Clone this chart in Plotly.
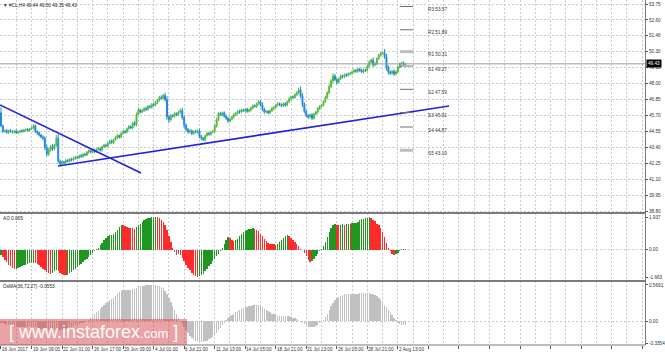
import plotly.graph_objects as go
from plotly.subplots import make_subplots

# ---------------- data ----------------
closes = [
    44.95, 44.55, 44.60, 44.48, 44.62, 44.55, 44.50, 44.58, 44.45, 44.52,
    44.60, 44.55, 44.65, 44.70, 44.62, 44.72, 44.80, 44.95, 44.55, 44.45,
    44.30, 44.15, 44.05, 43.40, 42.90, 43.20, 43.45, 43.30, 43.55, 44.05,
    42.40, 42.20, 42.35, 42.30, 42.45, 42.40, 42.55, 42.50, 42.60, 42.70,
    42.65, 42.80, 42.75, 42.90, 42.85, 43.05, 43.15, 43.05, 43.20, 43.10,
    43.25, 43.30, 43.20, 43.45, 43.55, 43.50, 43.70, 43.85, 43.75, 43.95,
    44.10, 44.25, 44.15, 44.40, 44.55, 44.50, 44.75, 44.90, 44.80, 45.15,
    45.05, 45.80, 46.10, 45.95, 46.05, 46.20, 46.15, 46.35, 46.30, 46.50,
    46.45, 46.65, 46.80, 47.00, 46.95, 47.15, 46.85, 45.60, 45.40, 45.70,
    45.65, 45.85, 45.75, 45.95, 46.05, 45.55, 45.00, 44.70, 44.50, 44.60,
    44.40, 44.55, 44.50, 44.60, 44.20, 44.05, 43.95, 44.25, 44.40, 44.35,
    44.50, 44.55, 44.95, 45.40, 45.85, 45.75, 45.90, 45.65, 45.50, 45.30,
    45.45, 45.60, 45.75, 45.85, 46.00, 45.95, 46.10, 46.05, 46.15, 46.00,
    46.10, 46.25, 46.40, 46.35, 46.55, 46.70, 46.45, 46.15, 45.95, 46.00,
    45.90, 46.05, 46.20, 46.30, 46.45, 46.55, 46.50, 46.40, 46.55, 46.45,
    46.70, 46.90, 47.05, 47.00, 47.20, 47.35, 47.55, 47.10, 46.50, 46.00,
    45.70, 45.60, 45.75, 45.50, 45.80, 45.95, 46.20, 46.35, 46.45, 46.70,
    47.00, 47.35, 47.80, 48.20, 48.55, 48.30, 48.10, 48.35, 48.55, 48.50,
    48.65, 48.60, 48.70, 48.75, 48.85, 48.95, 48.90, 49.05, 48.95, 48.85,
    49.00, 48.95, 49.25, 49.55, 49.70, 49.35, 49.45, 49.80, 50.05, 50.20,
    50.25, 49.95, 49.20, 48.85, 48.75, 48.90, 48.70, 48.85, 49.20, 49.45,
    49.50, 49.38, 49.43,
]
first_open = 45.90

upper_wicks = [
    0.40, 0.10, 0.08, 0.12, 0.06, 0.10, 0.08, 0.06, 0.12, 0.08,
    0.06, 0.10, 0.08, 0.06, 0.10, 0.08, 0.12, 0.15, 0.10, 0.08,
    0.10, 0.08, 0.12, 0.15, 0.20, 0.15, 0.12, 0.18, 0.10, 0.25,
    0.30, 0.12, 0.10, 0.08, 0.12, 0.10, 0.08, 0.10, 0.12, 0.08,
    0.10, 0.08, 0.12, 0.06, 0.10, 0.08, 0.12, 0.10, 0.08, 0.10,
    0.08, 0.12, 0.10, 0.08, 0.10, 0.12, 0.08, 0.10, 0.12, 0.08,
    0.10, 0.12, 0.08, 0.10, 0.12, 0.10, 0.08, 0.12, 0.10, 0.08,
    0.15, 0.12, 0.20, 0.10, 0.12, 0.08, 0.15, 0.10, 0.12, 0.10,
    0.12, 0.10, 0.08, 0.12, 0.15, 0.10, 0.20, 0.25, 0.15, 0.12,
    0.10, 0.12, 0.08, 0.10, 0.15, 0.20, 0.15, 0.12, 0.10, 0.12,
    0.10, 0.08, 0.12, 0.10, 0.15, 0.12, 0.10, 0.08, 0.12, 0.10,
    0.08, 0.10, 0.12, 0.15, 0.10, 0.12, 0.08, 0.10, 0.12, 0.10,
    0.08, 0.10, 0.12, 0.10, 0.08, 0.12, 0.10, 0.08, 0.10, 0.12,
    0.10, 0.08, 0.12, 0.10, 0.08, 0.12, 0.15, 0.20, 0.12, 0.10,
    0.08, 0.10, 0.12, 0.08, 0.10, 0.12, 0.10, 0.08, 0.10, 0.12,
    0.10, 0.12, 0.08, 0.10, 0.12, 0.10, 0.15, 0.25, 0.20, 0.15,
    0.12, 0.10, 0.08, 0.12, 0.10, 0.08, 0.12, 0.10, 0.08, 0.10,
    0.12, 0.10, 0.15, 0.12, 0.20, 0.15, 0.12, 0.10, 0.12, 0.10,
    0.08, 0.10, 0.12, 0.08, 0.10, 0.12, 0.10, 0.08, 0.10, 0.12,
    0.10, 0.08, 0.12, 0.15, 0.10, 0.20, 0.12, 0.10, 0.12, 0.10,
    0.08, 0.25, 0.20, 0.12, 0.10, 0.08, 0.12, 0.10, 0.08, 0.07,
    0.06, 0.12, 0.07,
]
lower_wicks = [
    0.10, 0.12, 0.08, 0.10, 0.12, 0.08, 0.10, 0.12, 0.08, 0.10,
    0.12, 0.08, 0.10, 0.12, 0.08, 0.10, 0.08, 0.10, 0.12, 0.15,
    0.12, 0.10, 0.15, 0.20, 0.15, 0.12, 0.10, 0.15, 0.12, 0.10,
    0.15, 0.12, 0.08, 0.10, 0.12, 0.08, 0.10, 0.12, 0.08, 0.10,
    0.12, 0.08, 0.10, 0.12, 0.08, 0.10, 0.12, 0.08, 0.10, 0.12,
    0.10, 0.08, 0.12, 0.10, 0.08, 0.12, 0.10, 0.08, 0.10, 0.12,
    0.08, 0.10, 0.12, 0.10, 0.08, 0.12, 0.10, 0.12, 0.08, 0.10,
    0.12, 0.15, 0.10, 0.12, 0.08, 0.10, 0.12, 0.10, 0.08, 0.12,
    0.10, 0.08, 0.12, 0.10, 0.08, 0.12, 0.15, 0.20, 0.25, 0.12,
    0.10, 0.12, 0.10, 0.08, 0.12, 0.15, 0.20, 0.15, 0.12, 0.10,
    0.12, 0.10, 0.08, 0.12, 0.15, 0.12, 0.10, 0.12, 0.08, 0.10,
    0.12, 0.08, 0.10, 0.12, 0.10, 0.08, 0.12, 0.10, 0.12, 0.15,
    0.10, 0.08, 0.12, 0.10, 0.08, 0.12, 0.10, 0.08, 0.12, 0.10,
    0.08, 0.12, 0.10, 0.08, 0.12, 0.10, 0.12, 0.15, 0.12, 0.10,
    0.12, 0.08, 0.10, 0.12, 0.08, 0.10, 0.12, 0.10, 0.08, 0.12,
    0.08, 0.10, 0.12, 0.08, 0.10, 0.12, 0.10, 0.15, 0.20, 0.15,
    0.12, 0.15, 0.10, 0.12, 0.10, 0.08, 0.12, 0.10, 0.08, 0.10,
    0.08, 0.12, 0.10, 0.12, 0.15, 0.12, 0.15, 0.10, 0.08, 0.12,
    0.10, 0.12, 0.08, 0.10, 0.12, 0.08, 0.10, 0.12, 0.10, 0.08,
    0.12, 0.10, 0.08, 0.12, 0.10, 0.15, 0.10, 0.12, 0.08, 0.10,
    0.12, 0.15, 0.25, 0.20, 0.12, 0.10, 0.15, 0.10, 0.08, 0.10,
    0.08, 0.06, 0.05,
]

ao_values = [
    -0.30, -0.45, -0.60, -0.75, -0.90, -1.00, -1.10, -1.18, -1.15, -1.10,
    -1.05, -1.00, -0.95, -0.90, -0.86, -0.83, -0.80, -0.78, -0.82, -0.88,
    -0.95, -1.05, -1.15, -1.25, -1.35, -1.42, -1.45, -1.38, -1.30, -1.25,
    -1.30, -1.38, -1.45, -1.52, -1.55, -1.50, -1.42, -1.35, -1.25, -1.15,
    -1.05, -0.95, -0.85, -0.75, -0.65, -0.55, -0.42, -0.30, -0.18, -0.08,
    0.02, 0.12, 0.25, 0.40, 0.55, 0.70, 0.80, 0.85, 0.88, 0.92,
    1.05, 1.20, 1.35, 1.48, 1.45, 1.40, 1.35, 1.32, 1.30, 1.28,
    1.25, 1.35, 1.45, 1.55, 1.65, 1.75, 1.82, 1.88, 1.92, 1.95,
    1.97, 1.98, 1.95, 1.90, 1.80, 1.65, 1.45, 1.15, 0.80, 0.45,
    0.10, -0.15, -0.30, -0.25, -0.35, -0.50, -0.70, -0.90, -1.10, -1.25,
    -1.40, -1.50, -1.58, -1.62, -1.60, -1.55, -1.45, -1.30, -1.15, -1.00,
    -0.85, -0.70, -0.55, -0.40, -0.25, -0.08, 0.10, 0.35, 0.60, 0.75,
    0.70, 0.60, 0.50, 0.55, 0.65, 0.80, 0.95, 1.05, 1.12, 1.18,
    1.22, 1.25, 1.27, 1.25, 1.20, 1.10, 0.95, 0.80, 0.65, 0.50,
    0.40, 0.35, 0.33, 0.32, 0.30, 0.35, 0.45, 0.60, 0.72, 0.82,
    0.88, 0.80, 0.70, 0.60, 0.48, 0.35, 0.20, 0.05, -0.05, -0.20,
    -0.40, -0.60, -0.75, -0.68, -0.55, -0.40, -0.25, -0.10, 0.05, 0.20,
    0.45, 0.75, 1.05, 1.30, 1.45, 1.52, 1.50, 1.48, 1.50, 1.52,
    1.50, 1.52, 1.55, 1.53, 1.58, 1.60, 1.62, 1.68, 1.75, 1.82,
    1.82, 1.87, 1.92, 1.95, 1.90, 1.80, 1.70, 1.55, 1.50, 1.30,
    1.05, 0.75, 0.40, 0.10, -0.10, -0.25, -0.32, -0.28, -0.18, -0.08,
    0.02, 0.05, 0.065,
]

osma_values = [
    -0.02, -0.03, -0.04, -0.05, -0.06, -0.07, -0.08, -0.08, -0.09, -0.09,
    -0.09, -0.09, -0.08, -0.08, -0.08, -0.07, -0.07, -0.07, -0.08, -0.09,
    -0.10, -0.11, -0.12, -0.13, -0.14, -0.14, -0.14, -0.14, -0.13, -0.13,
    -0.13, -0.13, -0.12, -0.12, -0.11, -0.10, -0.09, -0.08, -0.07, -0.06,
    -0.05, -0.04, -0.03, -0.02, -0.01, 0.01, 0.03, 0.05, 0.08, 0.11,
    0.14, 0.17, 0.20, 0.23, 0.26, 0.29, 0.31, 0.33, 0.35, 0.37,
    0.40, 0.43, 0.46, 0.48, 0.49, 0.49, 0.49, 0.49, 0.49, 0.50,
    0.50, 0.52, 0.54, 0.55, 0.56, 0.56, 0.57, 0.57, 0.57, 0.57,
    0.57, 0.57, 0.56, 0.55, 0.54, 0.52, 0.48, 0.42, 0.36, 0.30,
    0.24, 0.18, 0.12, 0.06, 0.01, -0.04, -0.09, -0.14, -0.18, -0.22,
    -0.25, -0.28, -0.30, -0.31, -0.32, -0.32, -0.32, -0.31, -0.30, -0.28,
    -0.26, -0.24, -0.21, -0.18, -0.14, -0.10, -0.06, -0.02, 0.02, 0.05,
    0.08, 0.10, 0.12, 0.14, 0.16, 0.18, 0.20, 0.21, 0.22, 0.23,
    0.24, 0.24, 0.25, 0.25, 0.25, 0.25, 0.24, 0.22, 0.20, 0.18,
    0.16, 0.14, 0.12, 0.11, 0.10, 0.09, 0.09, 0.09, 0.09, 0.09,
    0.09, 0.08, 0.07, 0.06, 0.05, 0.04, 0.02, 0.00, -0.02, -0.04,
    -0.06, -0.08, -0.09, -0.09, -0.08, -0.07, -0.05, -0.03, 0.00, 0.03,
    0.07, 0.12, 0.18, 0.24, 0.29, 0.33, 0.36, 0.38, 0.40, 0.41,
    0.42, 0.42, 0.43, 0.43, 0.43, 0.43, 0.43, 0.43, 0.44, 0.44,
    0.44, 0.44, 0.44, 0.44, 0.43, 0.42, 0.41, 0.39, 0.37, 0.34,
    0.30, 0.26, 0.22, 0.18, 0.14, 0.10, 0.06, 0.02, -0.02, -0.04,
    -0.05, -0.055, -0.055,
]

price_ticks = [53.75, 52.60, 51.46, 50.30, 49.15, 48.00, 46.85, 45.70,
               44.55, 43.40, 42.25, 41.10, 39.95, 38.80]
ao_ticks = [1.937, 0.0, -1.663]
ao_tick_text = ["1.937", "0.00", "-1.663"]
osma_ticks = [0.5691, 0.0, -0.3354]
osma_tick_text = ["0.5691", "0.00", "-0.3354"]

time_labels = ["16 Jun 2017", "19 Jun 09:00", "22 Jun 01:00", "26 Jun 17:00",
               "29 Jun 09:00", "4 Jul 01:00", "6 Jul 21:00", "11 Jul 13:00",
               "14 Jul 05:00", "18 Jul 21:00", "21 Jul 13:00", "26 Jul 05:00",
               "28 Jul 21:00", "2 Aug 13:00"]
time_label_bars = [0, 16, 32, 48, 64, 80, 96, 112, 128, 144, 160, 176, 192, 208]

trend1_bars = [-0.5, 73.4]
trend1_prices = [46.46, 41.55]
trend2_bars = [29.9, 234.8]
trend2_prices = [42.05, 46.39]

pivot_names = ["R3", "R2", "R1", "S1", "S2", "S3", "S4", "S5"]
pivot_levels = [53.57, 51.89, 50.31, 49.27, 47.59, 45.91, 44.87, 43.19]
pivot_bars = [209.1, 216.0]
pivot_label_bar = 223.0
pivot_heavy = [False, False, True, False, False, False, False, True]

last_price = 49.43
header_text = "▼ #CL,H4 49.44 49.50 49.35 49.43"
ao_text = "AO 0.065"
osma_text = "OsMA(36,72,27) -0.0553"

# ---------------- derived ----------------
bars = list(range(len(closes)))
opens = [first_open] + closes[:-1]
highs = [max(o, c) + w for o, c, w in zip(opens, closes, upper_wicks)]
lows = [min(o, c) - w for o, c, w in zip(opens, closes, lower_wicks)]
ao_colors = ["#1f961f" if (k == 0 or v >= ao_values[k - 1]) else "#ff2a2a"
             for k, v in enumerate(ao_values)]

FONT = "Liberation Sans, Arial, sans-serif"
SMALL = 4.7
GRID = "#c4c9d6"
small_font = dict(family=FONT, size=SMALL, color="#333333")

fig = make_subplots(rows=3, cols=1, shared_xaxes=True, vertical_spacing=0,
                    row_heights=[213, 68, 64])

fig.add_trace(go.Candlestick(
    x=bars, open=opens, high=highs, low=lows, close=closes,
    increasing=dict(line=dict(color="#52ba3c", width=1), fillcolor="#52ba3c"),
    decreasing=dict(line=dict(color="#1e8ad8", width=1), fillcolor="#1e8ad8"),
    showlegend=False, hoverinfo="skip"), row=1, col=1)

fig.add_trace(go.Scatter(x=trend1_bars, y=trend1_prices, mode="lines",
                         line=dict(color="#2222dd", width=1.6),
                         showlegend=False, hoverinfo="skip"), row=1, col=1)
fig.add_trace(go.Scatter(x=trend2_bars, y=trend2_prices, mode="lines",
                         line=dict(color="#2222dd", width=1.6),
                         showlegend=False, hoverinfo="skip"), row=1, col=1)

for name, lvl, heavy in zip(pivot_names, pivot_levels, pivot_heavy):
    fig.add_trace(go.Scatter(
        x=pivot_bars, y=[lvl, lvl], mode="lines",
        line=dict(color="#bdbdbd" if heavy else "#707070", width=3 if heavy else 1),
        showlegend=False, hoverinfo="skip"), row=1, col=1)
    fig.add_annotation(x=pivot_label_bar, y=lvl, xref="x", yref="y",
                       text=f"{name} {lvl:.2f}", showarrow=False,
                       xanchor="left", yanchor="middle", yshift=-3, borderpad=0,
                       font=small_font)

fig.add_trace(go.Bar(x=bars, y=ao_values, marker=dict(color=ao_colors, line=dict(width=0)),
                     width=0.72, showlegend=False, hoverinfo="skip"), row=2, col=1)
fig.add_trace(go.Bar(x=bars, y=osma_values, marker=dict(color="#c0c0c0", line=dict(width=0)),
                     width=0.72, showlegend=False, hoverinfo="skip"), row=3, col=1)

xrange = [-0.52, 337.5]
for r in (1, 2, 3):
    fig.update_xaxes(row=r, col=1, range=xrange, showticklabels=False,
                     tickmode="linear", tick0=0, dtick=16,
                     showgrid=True, gridcolor=GRID, griddash="2px,2px", gridwidth=1,
                     minor=dict(tick0=0, dtick=8, showgrid=True, gridcolor=GRID,
                                griddash="2px,2px", gridwidth=1),
                     zeroline=False, showline=False, ticks="",
                     rangeslider=dict(visible=False))
fig.update_xaxes(row=3, col=1, ticks="outside", ticklen=3, tickcolor="#555555")

fig.update_yaxes(row=1, col=1, side="right", range=[38.66, 54.04],
                 tickmode="array", tickvals=price_ticks,
                 ticktext=[f"{t:.2f}" for t in price_ticks],
                 ticks="outside", ticklen=2, tickcolor="#555555",
                 showgrid=True, gridcolor=GRID, griddash="2px,2px",
                 zeroline=False, showline=True, linecolor="#7a7a7a", linewidth=1,
                 tickfont=small_font)
fig.update_yaxes(row=2, col=1, side="right", range=[-1.885, 2.2],
                 tickmode="array", tickvals=ao_ticks, ticktext=ao_tick_text,
                 ticks="outside", ticklen=2, tickcolor="#555555",
                 showgrid=False, zeroline=False, showline=True,
                 linecolor="#7a7a7a", linewidth=1, tickfont=small_font)
fig.update_yaxes(row=3, col=1, side="right", range=[-0.366, 0.63],
                 tickmode="array", tickvals=osma_ticks, ticktext=osma_tick_text,
                 ticks="outside", ticklen=2, tickcolor="#555555",
                 showgrid=False, zeroline=False, showline=True,
                 linecolor="#7a7a7a", linewidth=1, tickfont=small_font)

# zero lines in indicator panels
for yref in ("y2", "y3"):
    fig.add_shape(type="line", xref="paper", x0=0, x1=1, yref=yref, y0=0, y1=0,
                  line=dict(color=GRID, width=1, dash="2px,2px"), layer="below")

# current price line
fig.add_shape(type="line", xref="paper", x0=0, x1=1, yref="y", y0=last_price,
              y1=last_price, line=dict(color="#9a9a9a", width=1))

# panel separators and bottom border
H = 345.0
for ypx in (213, 281):
    yp = 1 - ypx / H
    fig.add_shape(type="line", xref="paper", x0=0, x1=1, yref="paper", y0=yp, y1=yp,
                  line=dict(color="#7a7a7a", width=2))
fig.add_shape(type="line", xref="paper", x0=0, x1=1, yref="paper", y0=0, y1=0,
              line=dict(color="#7a7a7a", width=1))

# current price box
fig.add_annotation(xref="paper", x=1, y=last_price, yref="y", text=f"{last_price:.2f}",
                   showarrow=False, xanchor="left", yanchor="middle", xshift=1,
                   bgcolor="#000000", borderpad=1,
                   font=dict(family=FONT, size=SMALL, color="#ffffff"))

# panel titles
fig.add_annotation(xref="paper", yref="paper", x=0.003, y=1 - 2 / H, text=header_text,
                   showarrow=False, xanchor="left", yanchor="top", borderpad=0,
                   font=dict(family=FONT, size=SMALL, color="#222222"))
fig.add_annotation(xref="paper", yref="paper", x=0.003, y=1 - 215 / H, text=ao_text,
                   showarrow=False, xanchor="left", yanchor="top", borderpad=0,
                   font=dict(family=FONT, size=SMALL, color="#222222"))
fig.add_annotation(xref="paper", yref="paper", x=0.003, y=1 - 283 / H, text=osma_text,
                   showarrow=False, xanchor="left", yanchor="top", borderpad=0,
                   font=dict(family=FONT, size=SMALL, color="#222222"))

# time labels (left-aligned at their bars)
for lab, b in zip(time_labels, time_label_bars):
    fig.add_annotation(x=b, xref="x3", yref="paper", y=0, text=lab, showarrow=False,
                       xanchor="left", yanchor="top", yshift=-1, xshift=0, borderpad=0,
                       font=small_font)

# watermark
fig.add_shape(type="rect", xref="paper", yref="paper", x0=0, x1=187 / 645.0,
              y0=0, y1=1 - 319 / H, fillcolor="rgba(212,58,58,0.47)",
              line=dict(width=0), layer="above")
fig.add_annotation(xref="paper", yref="paper", x=8 / 645.0, y=1 - 332 / H,
                   text="[ www.instaforex<span style='font-size:13px'>.com</span> ]",
                   showarrow=False, xanchor="left", yanchor="middle", borderpad=0,
                   font=dict(family=FONT, size=18, color="#ffffff"))

fig.update_layout(width=665, height=356, margin=dict(l=0, r=20, t=0, b=11),
                  paper_bgcolor="#ffffff", plot_bgcolor="#ffffff",
                  bargap=0, showlegend=False)

fig.write_html("out.html", config={"displayModeBar": False, "staticPlot": True},
               post_script="document.body.style.margin='0px';"
                           "document.body.style.overflow='hidden';")
